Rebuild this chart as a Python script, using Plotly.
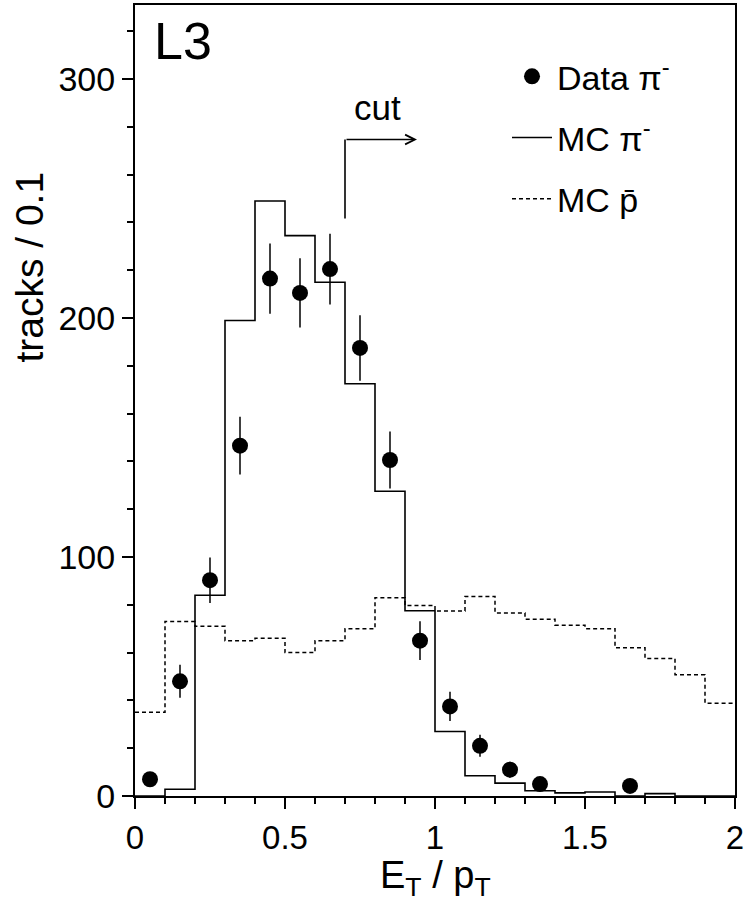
import plotly.graph_objects as go

# ---------------- data ----------------
bin_edges = [0.0, 0.1, 0.2, 0.3, 0.4, 0.5, 0.6, 0.7, 0.8, 0.9, 1.0,
             1.1, 1.2, 1.3, 1.4, 1.5, 1.6, 1.7, 1.8, 1.9, 2.0]

mc_pi = [0, 2.8, 84, 199, 249, 234.5, 215, 172.5, 127.5, 77.5,
         27, 8.5, 5.4, 2.2, 1.3, 1.7, 0, 1.0, 0, 0]

mc_pbar = [35, 73, 71, 65, 66, 60, 65, 70, 83, 79.7,
           77.4, 83.5, 76.6, 74, 71.5, 70, 62, 57.5, 50.7, 38.8]

data_x = [0.05, 0.15, 0.25, 0.35, 0.45, 0.55, 0.65, 0.75, 0.85,
          0.95, 1.05, 1.15, 1.25, 1.35, 1.65]
data_y = [7, 48, 90.3, 146.6, 216.5, 210.5, 220.5, 187.5, 140.6,
          65, 37.5, 21, 11, 5, 4.2]
data_err = [2.6, 6.9, 9.5, 12.1, 14.7, 14.5, 14.8, 13.7, 11.9,
            8.1, 6.1, 4.6, 3.3, 2.2, 2.0]

cut_x = 0.7
cut_x_end = 0.94
cut_y_low = 241.7
cut_y_high = 274.7

x_ticks = [0, 0.5, 1, 1.5, 2]
y_ticks = [0, 100, 200, 300]

FONT = "Liberation Sans"

fig = go.Figure()

fig.add_trace(go.Scatter(
    x=data_x, y=data_y, mode="markers",
    marker=dict(symbol="circle", size=16, color="black"),
    error_y=dict(type="data", array=data_err, visible=True,
                 color="black", thickness=1.5, width=0),
    name="Data π<sup>-</sup>", legendgroup="a",
))

fig.add_trace(go.Scatter(
    x=bin_edges, y=mc_pi + [mc_pi[-1]], mode="lines",
    line=dict(color="black", width=1.6, shape="hv"),
    name="MC π<sup>-</sup>", legendgroup="b",
))

fig.add_trace(go.Scatter(
    x=bin_edges, y=mc_pbar + [mc_pbar[-1]], mode="lines",
    line=dict(color="black", width=1.5, shape="hv", dash="4px,3px"),
    name="MC p\u0304", legendgroup="c",
))

# cut marker
fig.add_shape(type="line", xref="x", yref="y",
              x0=cut_x, x1=cut_x, y0=cut_y_low, y1=cut_y_high,
              line=dict(color="black", width=1.6))
fig.add_annotation(x=cut_x_end, y=cut_y_high, ax=cut_x, ay=cut_y_high,
                   xref="x", yref="y", axref="x", ayref="y",
                   text="", showarrow=True, arrowhead=5, arrowsize=1.2,
                   arrowwidth=1.6, arrowcolor="black")
fig.add_annotation(x=0.808, y=288, xref="x", yref="y", text="cut",
                   showarrow=False, font=dict(family=FONT, size=35, color="black"),
                   xanchor="center", yanchor="middle")

# L3 label
fig.add_annotation(x=0.028, y=0.955, xref="paper", yref="paper", text="L3",
                   showarrow=False, font=dict(family=FONT, size=52, color="black"),
                   xanchor="left", yanchor="middle")

# axis titles
fig.add_annotation(x=-0.175, y=0.668, xref="paper", yref="paper",
                   text="tracks / 0.1", textangle=-90, showarrow=False,
                   font=dict(family=FONT, size=39, color="black"),
                   xanchor="center", yanchor="middle")
fig.add_annotation(x=0.5, y=-0.104, xref="paper", yref="paper",
                   text="E<sub>T</sub> / p<sub>T</sub>", showarrow=False,
                   font=dict(family=FONT, size=38, color="black"),
                   xanchor="center", yanchor="middle")

axis_common = dict(showgrid=False, zeroline=False, showline=True, linewidth=2,
                   linecolor="black", mirror=True, ticks="outside",
                   tickcolor="black", tickwidth=1.5, ticklen=11)

fig.update_xaxes(range=[0, 2], tickvals=x_ticks,
                 ticktext=["0", "0.5", "1", "1.5", "2"],
                 tickfont=dict(family=FONT, size=33, color="black"),
                 minor=dict(dtick=0.1, tick0=0, ticks="outside", ticklen=6,
                            tickwidth=1.5, tickcolor="black"),
                 **axis_common)
fig.update_yaxes(range=[0, 331], tickvals=y_ticks,
                 tickfont=dict(family=FONT, size=34, color="black"),
                 minor=dict(dtick=20, tick0=0, ticks="outside", ticklen=6,
                            tickwidth=1.5, tickcolor="black"),
                 **axis_common)

fig.update_layout(
    width=747, height=903,
    margin=dict(l=135, r=11, t=3, b=107),
    paper_bgcolor="white", plot_bgcolor="white",
    font=dict(family=FONT, color="black"),
    showlegend=True,
    legend=dict(x=0.62, y=0.946, xanchor="left", yanchor="top",
                bgcolor="rgba(0,0,0,0)", borderwidth=0,
                font=dict(family=FONT, size=34, color="black"),
                traceorder="grouped", tracegroupgap=14, itemwidth=40),
)

fig.write_html("out.html")
